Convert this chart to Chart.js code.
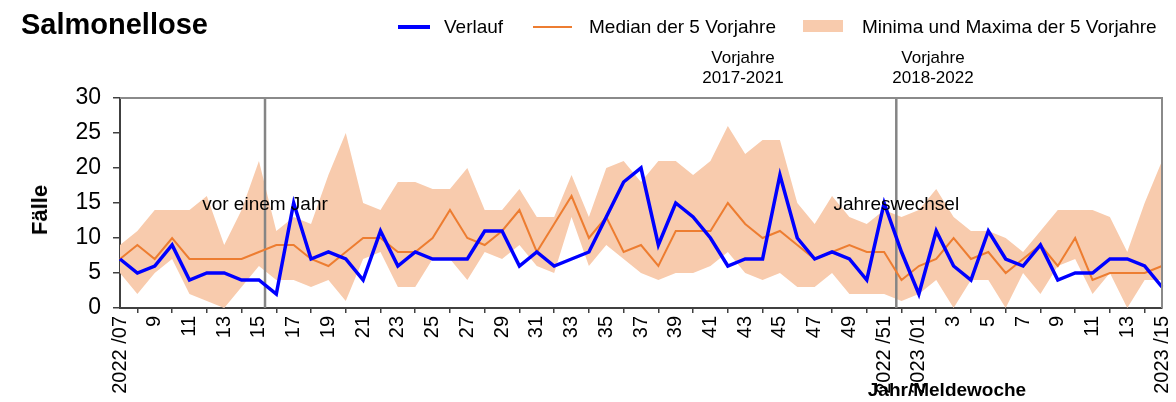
<!DOCTYPE html>
<html lang="de">
<head>
<meta charset="utf-8">
<title>Salmonellose</title>
<script src="https://cdn.jsdelivr.net/npm/chart.js@4/dist/chart.umd.min.js"></script>
<style>
  html, body { margin: 0; padding: 0; background: #fff; }
  #wrap { position: relative; width: 1176px; height: 402px; overflow: hidden;
          font-family: "Liberation Sans", Arial, sans-serif; color: #000; }
  #salmChart { position: absolute; left: 0; top: 0; }
  .txt { position: absolute; white-space: nowrap; line-height: 1; }
  .mid { transform: translateY(-50%); }
  .ctr { transform: translate(-50%, -50%); text-align: center; }
  .key { position: absolute; }
</style>
</head>
<body>
<div id="wrap">
  <canvas id="salmChart" width="1176" height="402"></canvas>

  <div class="txt mid" style="left:21px; top:24px; font-size:29px; font-weight:bold;">Salmonellose</div>

  <!-- legend -->
  <div class="key" style="left:398px; top:25px; width:32px; height:4px; background:#0000ff;"></div>
  <div class="txt mid" style="left:444px; top:26px; font-size:19px;">Verlauf</div>
  <div class="key" style="left:533px; top:26px; width:39px; height:2px; background:#ed7d31;"></div>
  <div class="txt mid" style="left:589px; top:26px; font-size:19px;">Median der 5 Vorjahre</div>
  <div class="key" style="left:803px; top:20px; width:40px; height:12px; background:#f8cbad;"></div>
  <div class="txt mid" style="left:862px; top:26px; font-size:19px;">Minima und Maxima der 5 Vorjahre</div>

  <div class="txt ctr" style="left:743px; top:68px; font-size:17px; line-height:20px;">Vorjahre<br>2017-2021</div>
  <div class="txt ctr" style="left:933px; top:68px; font-size:17px; line-height:20px;">Vorjahre<br>2018-2022</div>

  <div id="noteYear" class="txt ctr" style="font-size:19px;">vor einem Jahr</div>
  <div id="noteTurn" class="txt ctr" style="font-size:19px;">Jahreswechsel</div>

  <div class="txt" style="left:40px; top:210px; font-size:22px; font-weight:bold; transform: translate(-50%, -50%) rotate(-90deg);">Fälle</div>
  <div class="txt ctr" style="left:947px; top:389px; font-size:19px; font-weight:bold;">Jahr/Meldewoche</div>
</div>

<script>
// weeks 2022/07 .. 2023/15
const weeks = [
  '2022 /07', '2022 /08', '2022 /09', '2022 /10', '2022 /11', '2022 /12', '2022 /13', '2022 /14',
  '2022 /15', '2022 /16', '2022 /17', '2022 /18', '2022 /19', '2022 /20', '2022 /21', '2022 /22',
  '2022 /23', '2022 /24', '2022 /25', '2022 /26', '2022 /27', '2022 /28', '2022 /29', '2022 /30',
  '2022 /31', '2022 /32', '2022 /33', '2022 /34', '2022 /35', '2022 /36', '2022 /37', '2022 /38',
  '2022 /39', '2022 /40', '2022 /41', '2022 /42', '2022 /43', '2022 /44', '2022 /45', '2022 /46',
  '2022 /47', '2022 /48', '2022 /49', '2022 /50', '2022 /51', '2022 /52',
  '2023 /01', '2023 /02', '2023 /03', '2023 /04', '2023 /05', '2023 /06', '2023 /07', '2023 /08',
  '2023 /09', '2023 /10', '2023 /11', '2023 /12', '2023 /13', '2023 /14', '2023 /15'
];

const tickLabels = [
  '2022 /07', '', '9', '', '11', '', '13', '', '15', '', '17', '', '19', '', '21', '',
  '23', '', '25', '', '27', '', '29', '', '31', '', '33', '', '35', '', '37', '',
  '39', '', '41', '', '43', '', '45', '', '47', '', '49', '', '2022 /51', '',
  '2023 /01', '', '3', '', '5', '', '7', '', '9', '', '11', '', '13', '', '2023 /15'
];

const verlauf = [
  7, 5, 6, 9, 4, 5, 5, 4, 4, 2, 15, 7, 8, 7, 4, 11, 6, 8, 7, 7,
  7, 11, 11, 6, 8, 6, 7, 8, 13, 18, 20, 9, 15, 13, 10, 6, 7, 7, 19, 10,
  7, 8, 7, 4, 15, 8,
  2, 11, 6, 4, 11, 7, 6, 9, 4, 5, 5, 7, 7, 6, 3
];

const median = [
  7, 9, 7, 10, 7, 7, 7, 7, 8, 9, 9, 7, 6, 8, 10, 10, 8, 8, 10, 14,
  10, 9, 11, 14, 8, 12, 16, 10, 13, 8, 9, 6, 11, 11, 11, 15, 12, 10, 11, 9,
  7, 8, 9, 8, 8, 4,
  6, 7, 10, 7, 8, 5, 7, 9, 6, 10, 4, 5, 5, 5, 6
];

const maxima = [
  9, 11, 14, 14, 14, 16, 9, 14, 21, 11, 13, 12, 19, 25, 15, 14, 18, 18, 17, 17,
  20, 14, 14, 17, 13, 13, 19, 13, 20, 21, 18, 21, 21, 19, 21, 26, 22, 24, 24, 15,
  12, 16, 13, 12, 14, 13,
  14, 17, 13, 11, 11, 10, 8, 11, 14, 14, 14, 13, 8, 15, 21
];

const minima = [
  5, 2, 5, 7, 2, 1, 0, 3, 6, 4, 4, 3, 4, 1, 7, 8, 3, 3, 7, 7,
  4, 8, 7, 9, 6, 5, 13, 6, 9, 7, 5, 4, 5, 5, 6, 8, 5, 4, 5, 3,
  3, 5, 2, 2, 2, 1,
  2, 4, 0, 4, 4, 0, 5, 2, 6, 7, 2, 5, 0, 4, 4
];

// where the two grey marker lines sit on the week axis
const yearAgoAt = 8.35;
const yearTurnAt = 44.7;

const markerLines = {
  id: 'markerLines',
  afterDatasetDraw(chart, args) {
    if (args.index !== 2) return; // right after the min/max band
    const { ctx, chartArea, scales: { x } } = chart;
    ctx.save();
    ctx.strokeStyle = '#858585';
    ctx.lineWidth = 2.5;
    [yearAgoAt, yearTurnAt].forEach(pos => {
      const px = x.getPixelForValue(pos);
      ctx.beginPath();
      ctx.moveTo(px, chartArea.top);
      ctx.lineTo(px, chartArea.bottom);
      ctx.stroke();
    });
    ctx.restore();
  },
  afterDatasetsDraw(chart) {
    const { ctx, chartArea: { left, top, right, bottom } } = chart;
    ctx.save();
    ctx.strokeStyle = '#8a8a8a';
    ctx.lineWidth = 2;
    ctx.beginPath();
    ctx.moveTo(left, top);
    ctx.lineTo(right, top);
    ctx.lineTo(right, bottom);
    ctx.stroke();
    ctx.restore();
  }
};

const ctx = document.getElementById('salmChart').getContext('2d');
const salmChart = new Chart(ctx, {
  type: 'line',
  data: {
    labels: weeks,
    datasets: [
      {
        label: 'Verlauf',
        data: verlauf,
        borderColor: '#0000ff',
        borderWidth: 3.5,
        pointRadius: 0,
        fill: false,
      },
      {
        label: 'Median der 5 Vorjahre',
        data: median,
        borderColor: '#ed7d31',
        borderWidth: 2,
        pointRadius: 0,
        fill: false,
      },
      {
        label: 'Maxima der 5 Vorjahre',
        data: maxima,
        borderColor: 'rgba(0,0,0,0)',
        borderWidth: 0,
        pointRadius: 0,
        backgroundColor: '#f8cbad',
        fill: '+1',
      },
      {
        label: 'Minima der 5 Vorjahre',
        data: minima,
        borderColor: 'rgba(0,0,0,0)',
        borderWidth: 0,
        pointRadius: 0,
        fill: false,
      },
    ],
  },
  options: {
    responsive: false,
    animation: false,
    devicePixelRatio: 1,
    layout: { padding: { left: 0, right: 14, top: 98, bottom: 0 } },
    plugins: {
      legend: { display: false },
      title: { display: false },
      tooltip: { enabled: false },
    },
    scales: {
      x: {
        offset: false,
        grid: {
          drawOnChartArea: false,
          tickLength: 5,
          lineWidth: 1.5,
          color: c => (c.index % 2 ? '#404040' : 'rgba(0,0,0,0)'),
        },
        border: { color: '#404040', width: 2 },
        ticks: {
          autoSkip: false,
          minRotation: 90,
          maxRotation: 90,
          padding: 3,
          color: '#000',
          font: { family: 'Liberation Sans', size: 20 },
          callback: (v, i) => tickLabels[i],
        },
        afterFit: s => { s.height = 94; s.paddingLeft = 0; s.paddingRight = 0; },
      },
      y: {
        min: 0,
        max: 30,
        grid: { drawOnChartArea: false, tickLength: 7, lineWidth: 1.5, color: '#404040' },
        border: { color: '#404040', width: 2 },
        ticks: {
          stepSize: 5,
          padding: 12,
          color: '#000',
          font: { family: 'Liberation Sans', size: 23 },
        },
        afterFit: s => { s.width = 120; s.paddingTop = 0; s.paddingBottom = 0; },
      },
    },
  },
  plugins: [markerLines],
});

// put the two marker captions on their lines
function placeNote(id, pos, val) {
  const el = document.getElementById(id);
  el.style.left = salmChart.scales.x.getPixelForValue(pos) + 'px';
  el.style.top = salmChart.scales.y.getPixelForValue(val) + 'px';
}
placeNote('noteYear', yearAgoAt, 15);
placeNote('noteTurn', yearTurnAt, 15);
</script>
</body>
</html>
